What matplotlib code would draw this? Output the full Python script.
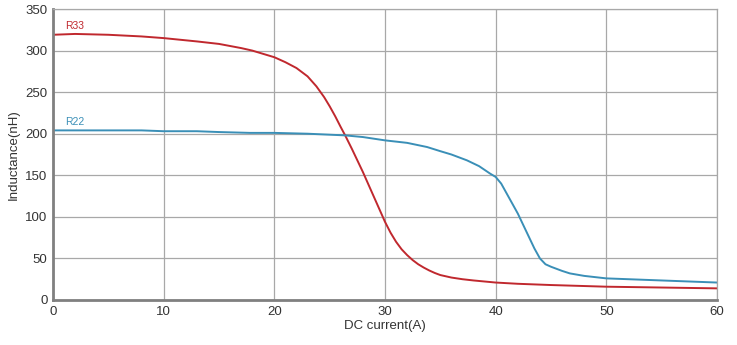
import matplotlib
matplotlib.use("Agg")
import matplotlib.pyplot as plt

plt.rcParams['font.family'] = ['Liberation Sans', 'DejaVu Sans']

r33_x = [0, 2, 5, 8, 10, 13, 15, 17, 18, 19, 20, 21, 22, 23, 23.8, 24.5, 25, 25.5, 26, 26.4, 27, 27.5, 28, 28.5, 29, 29.5, 30, 30.5, 31, 31.5, 32, 32.5, 33, 33.5, 34, 34.5, 35, 36, 37, 38, 40, 42, 45, 50, 55, 60]
r33_y = [319, 320, 319, 317, 315, 311, 308, 303, 300, 296, 292, 286, 279, 269, 257, 244, 233, 221, 208, 198, 182, 168, 154, 139, 124, 109, 94, 81, 70, 61, 54, 48, 43, 39, 35.5, 32.5, 30, 27, 25, 23.5, 21, 19.5, 18, 16, 15, 14]

r22_x = [0, 5, 8, 10, 13, 15, 17.8, 20, 23, 26.4, 28, 30, 32, 33.8, 35, 36, 37.4, 38.5, 39.5, 40, 40.5, 41, 41.5, 42, 42.5, 43, 43.5, 44, 44.5, 45, 46, 46.7, 48, 50, 52, 55, 58, 60]
r22_y = [204, 204, 204, 203, 203, 202, 201, 201, 200, 198, 196, 192, 189, 184, 179, 175, 168, 161, 152, 148, 140, 128, 116, 104, 90, 76, 62, 50, 43, 40, 35, 32, 29, 26, 25, 23.5, 22, 21]

x_ticks = [0, 10, 20, 30, 40, 50, 60]
y_ticks = [0, 50, 100, 150, 200, 250, 300, 350]
series_labels = ["R33", "R22"]

red = "#c0282e"
blue = "#3a8fb7"
grid_c = "#a8a8a8"

fig = plt.figure(figsize=(7.37, 3.45), dpi=100)
ax = fig.add_axes([53/737, 45/345, (717-53)/737, (300-9)/345])

ax.plot(r33_x, r33_y, color=red, lw=1.4, solid_joinstyle='round')
ax.plot(r22_x, r22_y, color=blue, lw=1.4, solid_joinstyle='round')

ax.set_xlim(0, 60)
ax.set_ylim(0, 350)
ax.set_xticks(x_ticks)
ax.set_yticks(y_ticks)
ax.grid(True, color=grid_c, lw=0.9)
ax.set_axisbelow(True)
ax.tick_params(length=0, labelsize=9.5, colors="#333333", pad=4)
for s in ['top', 'right']:
    ax.spines[s].set_color(grid_c)
    ax.spines[s].set_linewidth(0.9)
for s in ['left', 'bottom']:
    ax.spines[s].set_color("#808080")
    ax.spines[s].set_linewidth(2)

ax.text(1.1, 330, series_labels[0], color=red, fontsize=7.5, va='center')
ax.text(1.1, 214, series_labels[1], color=blue, fontsize=7.5, va='center')

ax.set_xlabel("DC current(A)", fontsize=9.5, color="#333333", labelpad=2)
ax.set_ylabel("Inductance(nH)", fontsize=9.5, color="#333333", labelpad=4)

fig.savefig("out.png", dpi=100)
